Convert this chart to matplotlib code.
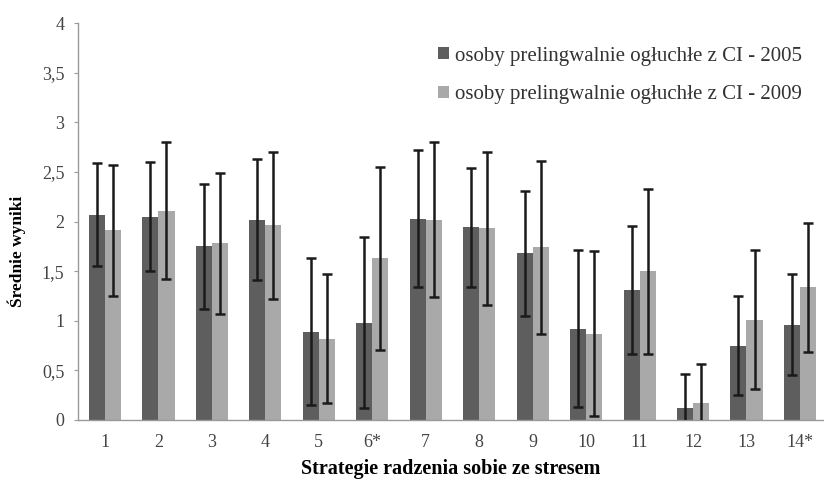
import matplotlib
matplotlib.use("Agg")
import matplotlib.pyplot as plt
import numpy as np

categories = ["1", "2", "3", "4", "5", "6*", "7", "8", "9", "10", "11", "12", "13", "14*"]
means_2005 = [2.07, 2.05, 1.75, 2.02, 0.89, 0.98, 2.03, 1.94, 1.68, 0.92, 1.31, 0.12, 0.75, 0.96]
sd_2005 = [0.52, 0.55, 0.63, 0.61, 0.74, 0.86, 0.69, 0.60, 0.63, 0.79, 0.64, 0.34, 0.50, 0.51]
means_2009 = [1.91, 2.11, 1.78, 1.96, 0.82, 1.63, 2.02, 1.93, 1.74, 0.87, 1.50, 0.17, 1.01, 1.34]
sd_2009 = [0.66, 0.69, 0.71, 0.74, 0.65, 0.92, 0.78, 0.77, 0.87, 0.83, 0.83, 0.39, 0.70, 0.65]
yticks = [0, 0.5, 1, 1.5, 2, 2.5, 3, 3.5, 4]
ytick_labels = ["0", "0,5", "1", "1,5", "2", "2,5", "3", "3,5", "4"]
label_2005 = "osoby prelingwalnie ogłuchłe z CI - 2005"
label_2009 = "osoby prelingwalnie ogłuchłe z CI - 2009"

plt.rcParams['font.family'] = ['Liberation Serif', 'DejaVu Serif']

fig = plt.figure(figsize=(8.24, 4.8), dpi=100)
ax = fig.add_axes([0.095, 0.125, 0.905, 0.827])

x = np.arange(1, len(categories) + 1)
w = 0.3
ax.bar(x - w / 2, means_2005, w, color="#5e5e5e", label=label_2005, zorder=2)
ax.bar(x + w / 2, means_2009, w, color="#a9a9a9", label=label_2009, zorder=2)
ax.errorbar(x - w / 2, means_2005, yerr=sd_2005, fmt="none", ecolor="#1a1a1a",
            elinewidth=1.8, capsize=3.8, capthick=1.8, zorder=3)
ax.errorbar(x + w / 2, means_2009, yerr=sd_2009, fmt="none", ecolor="#1a1a1a",
            elinewidth=1.8, capsize=3.8, capthick=1.8, zorder=3)

ax.set_xlim(0.5, 14.45)
ax.set_ylim(0, 4)
ax.set_yticks(yticks)
ax.set_yticklabels(ytick_labels)
ax.set_xticks(x)
ax.set_xticklabels(categories)
ax.tick_params(axis="y", length=3, color="#999999", labelsize=13, labelcolor="#444444", pad=7)
ax.tick_params(axis="x", length=0, labelsize=13, labelcolor="#444444", pad=10)

for s in ["top", "right"]:
    ax.spines[s].set_visible(False)
for s in ["left", "bottom"]:
    ax.spines[s].set_color("#999999")
    ax.spines[s].set_linewidth(1.0)

ax.set_xlabel("Strategie radzenia sobie ze stresem", fontsize=14.5, fontweight="bold")
ax.xaxis.set_label_coords(0.5, -0.098)
ax.set_ylabel("Średnie wyniki", fontsize=12.5, fontweight="bold")
ax.yaxis.set_label_coords(-0.07, 0.425)

leg = ax.legend(loc="upper right", bbox_to_anchor=(0.995, 0.988), frameon=False, fontsize=15,
                handlelength=0.55, handleheight=0.55, handletextpad=0.25, labelspacing=0.95)
for t in leg.get_texts():
    t.set_color("#333333")

fig.savefig("out.png", dpi=100)
